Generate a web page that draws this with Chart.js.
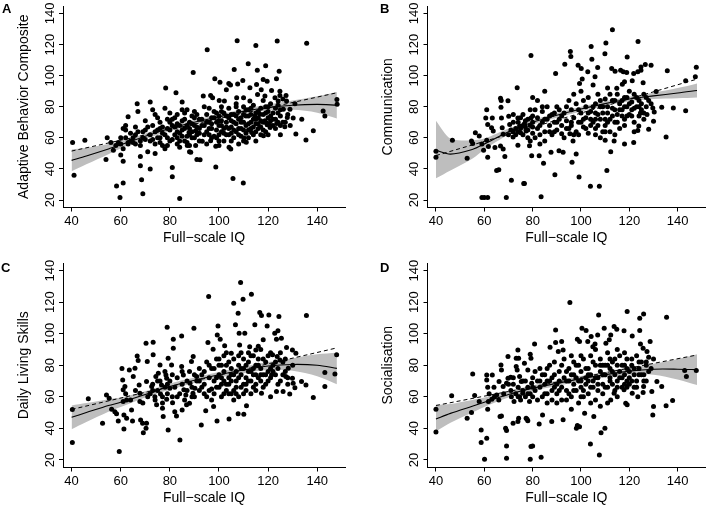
<!DOCTYPE html>
<html>
<head>
<meta charset="utf-8">
<script src="https://cdn.jsdelivr.net/npm/chart.js@4/dist/chart.umd.min.js"></script>
<style>
  body { margin: 0; background: #fff; width: 709px; height: 508px; position: relative; overflow: hidden; font-family: "Liberation Sans", Arial, sans-serif; }
  canvas { position: absolute; }
  .tag { position: absolute; font-weight: bold; font-size: 13px; line-height: 13px; color: #000; }
</style>
</head>
<body>
<canvas id="cA" width="354" height="254" style="left:0;top:0"></canvas>
<canvas id="cB" width="355" height="254" style="left:354px;top:0"></canvas>
<canvas id="cC" width="354" height="254" style="left:0;top:254px"></canvas>
<canvas id="cD" width="355" height="254" style="left:354px;top:254px"></canvas>
<div class="tag" style="left:2px;top:2px">A</div>
<div class="tag" style="left:380px;top:2px">B</div>
<div class="tag" style="left:1px;top:261px">C</div>
<div class="tag" style="left:380px;top:261px">D</div>
<script>
// ticks and axis text
const xTicks = [40, 60, 80, 100, 120, 140];
const yTicks = [20, 40, 60, 80, 100, 120, 140];
const xTitle = 'Full\u2212scale IQ';
const yTitles = ['Adaptive Behavior Composite', 'Communication', 'Daily Living Skills', 'Socialisation'];

// x positions of the smoothed curve and of the straight fit
const fitX = [40, 46, 55, 60, 70, 80, 90, 100, 110, 120, 130, 140, 148];
const linX = [40, 148];

// A: Adaptive Behavior Composite
const pointsA = [[40.4,57],[41,36],[45.4,58.5],[54,46],[54.5,60],[56,57],[58.3,29],[59.7,21.7],[61,31],[61,45],[60,49],[61,53],[60,56],[62,65],[62,68],[61,66],[63,57],[63,73.5],[66,56],[66.7,82],[67,77],[68,55],[68,58],[68,48],[68,42],[68.5,33],[69,24],[69,64],[70,71],[70,59],[71,51],[72,83],[72,40],[72,62],[73,68],[73,78],[74,75],[74,56],[74,50],[75,73],[75,65],[76,60],[76,70],[77,55],[77,63],[78.3,92],[78,79],[78,53],[79,60],[79,66],[79,72],[80,65],[80,70],[80,76],[81,41],[81,35],[81,59],[82.5,89],[82,67],[83,60],[83,75],[84,21],[84,54],[84,63],[85,71],[85,83],[86,58],[86,66],[87,78],[87,61],[88,51],[88,70],[88,55],[89,64],[89,74],[89.5,102],[90,60],[91,46],[91,67],[92,72],
  [57,52],[58,55],[59,57],[60,60],[63,56],[64,58],[65,57],[66,62],[65,60],[67,64],
  [107.4,122.5],[123.7,122.3],[135.7,120.8],[115,119.4],[95.2,116.6],[111.9,107.7],[119,106.4],[106.2,103.9],[115.6,103.4],[124.5,102.8],[98.3,98],[100.4,95.8],[104,95],[104.7,94],[103,91],[107.6,94.7],[109.7,96.9],[118,97.5],[119.6,96.4],[123.4,98],[115.3,94.3],[112.6,92.2],[117.2,91],[121.4,90.5],[124.8,90],[93.6,86.9],[96.6,87.3],[97.4,85.8],[100.1,84],[102.2,83.7],[107.2,85.8],[110,85.8],[112.6,83.7],[115.7,87.9],[118.7,86.9],[122.8,85.8],[124.8,87.3],[127.3,87.3],[124.1,83.7],[127.5,83.7],[130.9,82],[148,84.7],[148.1,81.6],[142.4,77.3],[143.1,74.1],[126.2,78.4],[128.9,78.4],[127.8,73.1],[130.2,72.7],[133.7,72],[126.8,67.1],[131.3,62.5],[135.4,58.6],[138.4,64.6],[87.8,63.5],[90.5,64.6],[87.1,55],[88.5,50.8],[90.5,55],[92.3,45.9],[98.7,41.2],[105.7,33.8],[109.9,31],[93.2,57.8],[96.6,58.2],[98.7,54.6],[104.1,54],[104.8,52.9],[110.2,59.9],[111.1,57.2],[113.3,63.5],[118.1,61.4],[120.8,66.7],[123.5,69.3],[118.7,71],[119.6,68.4],[114.6,74.1],[116.7,75.2],
  [93,72],[94,68],[95,75],[95,64],[96,70],[96,79],[97,66],[97,73],[98,61],[98,77],[99,70],[99,65],[100,74],[100,68],[100,62],[101,80],[101,71],[102,66],[102,76],[103,70],[103,62],[104,73],[104,79],[105,67],[105,71],[106,60],[106,75],[107,69],[107,64],[107,82],[108,72],[108,77],[109,66],[109,61],[110,70],[110,75],[110,80],[111,68],[111,63],[112,74],[112,78],[113,70],[113,66],[114,72],[114,81],[115,69],[115,64],[116,77],[116,73],[117,79],[117,67],[118,75],[118,84],[119,70],[119,80],[120,73],[120,77],[121,82],[121,71],[122,76],[123,79],[123,72],[124,81],[125,74],[126,70],[126,85],[82,62],[83,69],[84,58],[85,65],[86,72],[87,68],[88,62],[89,69],[90,73],[91,62],[92,66],[92,58],
  [94,62],[96,66],[99,76],[101,64],[103,74],[105,63],[106,70],[108,66],[109,73],[111,78],[113,75],[115,72],[117,71],[119,76],[121,74],[122,68],[124,70],[125,78],[101,68],[104,66],[107,74],[110,65],[112,69],[114,67],[116,69],[118,65],[120,69],[95,70],[97,60],[100,58],[102,58],[108,56],[112,60],[115,58],[70,65],[72,58],[75,60],[77,67],[78,62],[81,68],[82,73],[84,68],[85,61],[86,76],[88,66],[90,68],[91,75],[76,57],[80,58],[83,64],
  [62,60],[64,63],[66,67],[69,60],[71,67],[73,59],[74,64],[76,66],[79,55],[81,72],[83,56],[85,78],[87,57],[89,60],[90,77],[92,63],[93,68],[94,80],[96,62],[97,69],[98,73],[99,60],[100,71],[101,77],[102,63],[103,67],[104,62],[105,75],[106,65],[107,80],[108,62],[109,70],[110,58],[111,74],[112,65],[113,79],[114,62],[115,76],[116,66],[117,62],[118,70],[119,64],[120,80],[121,68],[122,72],[123,66],[124,76],[125,68],[127,70],[128,75],[129,68],[105,58],[95,56],[100,55],[120,62],[125,62]];
const fitA = [45.5, 48.3, 52.8, 55.5, 61, 66, 70, 73.5, 77, 79.5, 81, 81.5, 81];
const loA  = [38.5, 43, 49.5, 53.2, 59.2, 64.4, 68.5, 72, 75.4, 77.5, 78, 76.2, 72.5];
const hiA  = [52.5, 53.6, 56.1, 57.8, 62.8, 67.6, 71.5, 75, 78.6, 81.5, 84, 86.8, 89.5];
const linA = [51.5, 89];

// B: Communication
const pointsB = [[40,51.3],[40,47.5],[46.8,58.5],[52.9,46.8],[54.7,58],[55.2,56.4],[56.3,63.3],[57.9,61.2],[59,56],[59.7,52],[61,78],[60.6,72.8],[61.4,68.6],[61,58.5],[61.7,54.5],[61.4,47.5],[59,21.7],[60,21.7],[61.4,21.7],[63,66.5],[63.3,72.8],[63.7,64.4],[64.4,53.8],[65.1,39],[66,39.5],[66.7,85.5],[67,84],[66.9,79.6],[67.1,72.8],[67.4,66.5],[67.8,62.3],[66.7,54.7],[67.8,52.8],[68.5,48],[69.1,21.7],[69.8,83.8],[70.1,73.9],[70.5,68.6],[71.2,32.7],[71.9,60.6],[73.6,92.3],[73.9,72.8],[74.6,67.6],[75,63.3],[73.9,55.3],[76.6,30.6],[76,75],[76.6,69],[77.3,64.4],[79,78],[79.3,72.8],[79.3,113],[78.7,54.9],[79.6,48.5],
  [72,64],[72,70],[73,62],[74,70],[75,66],[75,73],[76,62],[77,71],[78,65],[78,60],[79,68],[80,63],[80,70],
  [113,129.5],[123.6,122],[110.3,121],[104.2,118.7],[95.6,115.6],[95.8,112.4],[119.1,112],[93.3,107.3],[89.5,101.4],[98.8,106.7],[100.1,104.6],[102.8,102.5],[104.5,110.5],[106.9,105.2],[109.9,114.1],[105.8,99.3],[99.4,95],[100.5,97.8],[112.7,104.6],[114.1,102.9],[116.4,103.5],[117.5,102.5],[118.9,102],[121.8,101.4],[123.5,102.5],[124.8,103.5],[124.8,105.6],[126.6,107.1],[129,106.7],[125.7,95.5],[121.2,96.7],[118,96.1],[114.8,91.9],[117.1,94.4],[135.7,103.1],[143.3,96.7],[147.3,99.3],[147.7,105.4],[131.1,89.8],[138.2,79.2],[143.3,77.5],[133.4,79.6],[129.7,79.2],[130.3,76.7],[127.3,75],[130,70.7],[128,65.5],[123.9,67.6],[124.6,76],[135.2,60.6],[121.8,57],[123.5,64.8],[118,56],[113.7,58],[112.3,51.1],[110,58.5],[110.7,39],[107.6,28.9],[103.9,28.9],[99.2,34.8],[96.3,44.3],[98,49.6],[96.7,58],[95.4,62.7],[89.2,36.3],[84.5,43.7],[82.7,48.5],[83.5,22.1],[76.3,30.6],[87.6,50.7],[90.9,51.7],[92.6,50.7],[92,62.7],
  [82,66],[82,73],[83,62],[84,70],[84,77],[85,64],[86,72],[86,80],[87,68],[88,62],[88,75],[89,70],[90,65],[90,80],[91,72],[92,68],[93,76],[93,60],[94,71],[95,84],[95,66],[96,78],[97,73],[97,88],[98,64],[98,82],[99,70],[100,76],[100,90],[101,67],[102,80],[102,73],[103,86],[103,63],[104,77],[105,70],[105,94],[106,82],[106,66],[107,75],[107,88],[108,72],[108,60],[109,80],[110,68],[110,85],[111,76],[111,92],[112,72],[112,64],[113,84],[113,79],[114,70],[115,88],[115,75],[116,82],[116,66],[117,78],[118,86],[118,72],[119,80],[120,75],[120,90],[121,83],[122,70],[122,79],[123,86],[124,74],[125,82],[126,88],[127,80],[128,84],[82,84],[84,80],[85,90],[80,86],
  [81,60],[83,56],[85,58],[87,74],[89,64],[91,78],[94,66],[96,70],[99,62],[101,72],[104,68],[106,76],[108,80],[109,64],[111,70],[114,78],[117,84],[119,74],[121,78],[124,80],[126,76],[73,66],[71,65],[77,67],[79,58],[80,74],[81,78],
  [70,62],[72,75],[74,64],[76,68],[78,72],[80,67],[83,68],[85,72],[87,64],[89,76],[90,70],[92,74],[94,80],[96,68],[97,62],[99,78],[100,70],[101,84],[103,76],[104,72],[105,80],[106,72],[107,68],[108,84],[109,76],[110,72],[111,80],[112,88],[113,74],[114,84],[115,70],[116,78],[117,74],[118,80],[119,86],[120,82],[121,74],[122,88],[123,80],[124,84],[125,78],[126,72],[127,86],[129,82],[102,66],[106,62],[110,64],[114,62],[118,68],[122,64]];
const fitB = [52, 49.5, 52.5, 56, 64, 70, 74.5, 78.5, 82, 85, 87, 88.8, 90.5];
const loB  = [34, 39, 46.5, 52.5, 62, 68.5, 73, 77, 80.5, 83.5, 85, 85.5, 86];
const hiB  = [71, 59.5, 58.5, 59.5, 66, 71.5, 76, 80, 83.5, 86.5, 89, 92, 95];
const linB = [48.6, 97.8];

// C: Daily Living Skills
const pointsC = [[40.3,52],[40.3,31],[46.8,58.7],[52.6,43.2],[54.2,61.2],[55.3,59.1],[56.3,52.1],[57.6,50.6],[58.3,49.2],[59,44.7],[59.4,25.3],[60.5,77.9],[60.8,70.7],[61,64.4],[61,57],[61.3,48.5],[61.3,39.6],[61.7,66.5],[62.4,58],[62.4,46.4],[63.5,77],[64.4,51.7],[64.8,44.7],[65.1,72.8],[65.8,78.1],[66.7,85.9],[67.1,83],[67.5,67.5],[67.8,62.3],[67.8,57],[68.1,45.3],[68.9,43.2],[69.2,37.3],[70.3,93.9],[70.5,43.2],[70.3,40.1],[70.8,82.3],[70.5,69.7],[72.6,66.5],[73.2,94.6],[73.2,86.6],[73.9,60.1],[74.3,72.8],[74.6,54.9],[75.3,74.9],[76,80.2],[76.2,61.8],[76.6,67.5],[77,52.7],[77.3,47.5],[78,76],[78.4,73.9],[78.7,71.8],[78.7,58.5],[78.9,104.1],[79.3,84.4],[79.3,39],[80,65.4],[80.7,80.2],[81.4,96.5],[81.4,90.8],[81.1,56.3],[82,50.6],[82.7,47.9],[84.1,32.7],[84.8,98.6],[84.8,79.2],[85.5,73.9],[85.7,64.4],[86.5,61.2],[86.8,54.9],[88.2,68.6],[88.8,82.3],[89.5,85.5],[89.8,103.5],[90.2,65.4],[90.9,72.8],
  [72,62],[73,68],[74,58],[75,64],[76,70],[77,60],[78,66],[79,62],[80,70],[81,60],[82,66],[83,72],[84,62],[85,68],[86,58],[87,64],[88,76],[89,60],[90,60],
  [108.8,132.4],[113.2,125],[109.8,121.8],[95.8,123.5],[106,119.3],[107.8,113],[116.6,113.4],[117.3,111.5],[120.3,111.9],[124.4,110.9],[135.6,111.5],[114.6,105.6],[119.6,104.9],[106.7,105.6],[99.6,104.9],[99.3,99.2],[122.7,100.3],[124,101.8],[125.4,97.1],[123.4,96.5],[118,96.1],[108.2,100.3],[110.5,100.3],[100.5,96.5],[95.5,94.4],[102.3,92.3],[97.6,90.1],[105,87.6],[108.4,92.9],[112.5,91.8],[115,89.7],[127.5,91.2],[129.9,89.7],[131.3,87.6],[147.9,86.6],[143.1,75.4],[147.2,74.5],[143.1,66.5],[138.4,59.5],[135.4,67.5],[133.6,69.7],[130.9,65.8],[130.2,68.6],[129.9,71.8],[127.2,72.8],[128.2,78.1],[128.8,61.8],[126.1,63.3],[123.4,63.3],[121,60.1],[117.3,62.3],[121.4,73.9],[124.8,83.4],[121.8,86.6],[123.7,85.5],[92.8,42.2],[99.2,44.7],[104.1,45.9],[107.8,49.2],[110.1,48.9],[111.2,54.4],[94.6,51.1],[97.8,53.8],[89.4,62.3],[88,55.9],[85,51.7],
  [91,70],[92,78],[92,64],[93,74],[94,68],[95,60],[95,82],[96,72],[97,65],[97,78],[98,70],[98,62],[99,84],[100,74],[100,66],[101,80],[101,60],[102,70],[102,76],[103,64],[103,88],[104,72],[104,68],[105,78],[105,62],[106,74],[106,84],[107,66],[107,70],[108,80],[108,60],[109,74],[109,88],[110,68],[110,78],[111,72],[111,64],[112,82],[112,76],[113,70],[113,62],[114,86],[114,74],[115,80],[115,68],[116,84],[116,72],[117,78],[117,90],[118,74],[118,66],[119,82],[120,76],[120,70],[121,88],[122,80],[123,74],[124,78],[125,70],[126,82],[127,76],[128,68],
  [93,66],[96,64],[99,72],[101,68],[103,80],[105,70],[107,76],[109,66],[111,80],[113,76],[115,74],[117,70],[119,74],[121,78],[94,76],[98,78],[104,62],[106,64],[110,62],[114,66],[100,84],[102,86],[108,86],[112,88],[116,92],
  [62,62],[64,58],[66,64],[69,56],[71,60],[73,64],[75,70],[77,56],[79,68],[81,74],[83,60],[85,76],[87,70],[89,66],[90,74],[92,70],[94,62],[96,80],[97,58],[99,66],[100,80],[101,72],[103,68],[104,82],[105,74],[107,62],[108,72],[109,78],[110,84],[111,68],[112,70],[113,86],[114,78],[115,64],[116,80],[117,74],[118,84],[119,68],[120,86],[121,72],[122,76],[123,82],[124,68],[125,88],[126,74],[127,84],[128,72],[130,80],[106,58],[102,62]];
const fitC = [47, 50, 54.5, 56.5, 61.5, 66.5, 70.5, 74, 77, 79.5, 80.5, 80, 78];
const loC  = [39.5, 44, 50.5, 53.5, 59.5, 64.5, 68.7, 72.2, 75, 77, 76.5, 73, 68];
const hiC  = [54.5, 56, 58.5, 59.5, 63.5, 68.5, 72.3, 75.8, 79, 82, 84.5, 87, 88];
const linC = [52, 91];

// D: Socialisation
const pointsD = [[40,52.1],[40,37.7],[46.5,60.6],[52.9,46.4],[54.7,50],[55.2,74.5],[56,60.8],[57.9,57],[58.7,39],[58.7,31],[60.1,20.4],[61,73.9],[61,70.7],[61.4,66.1],[61,33.7],[61.4,52.1],[61.7,57],[63.1,58.5],[63.3,73.9],[64.2,60.1],[65.1,61.2],[66.1,69.7],[66.5,47.5],[67.1,47.9],[66.9,80.2],[67.1,77],[67.8,66.5],[69.2,68.6],[69.8,71.8],[70.9,72.4],[68.8,40.1],[69.2,38.6],[69.2,28.9],[69.2,21.1],[69.8,85.5],[71.2,60.1],[71.9,43.2],[72.3,57],[73.2,84.4],[74.2,84.4],[73.9,89.7],[73.2,79.2],[73.6,77],[73.9,44.3],[74.2,46.4],[74.6,72.8],[75.3,69.7],[74.6,60.1],[75.9,62.3],[77.3,46.4],[78,44.9],[76.6,81.3],[78,77],[79,87],[79.3,84.4],[79.3,28.5],[79,20.4],[78.7,57],[79.6,68.6],
  [71,64],[72,68],[73,62],[74,66],[75,58],[76,64],[77,70],[77,60],[78,66],[79,62],[80,66],[80,72],
  [95.4,119.7],[107.3,111.9],[119.1,114],[125.9,112.5],[124.3,109.8],[135.4,110.4],[100.4,103.5],[102.1,102],[89.5,102.4],[109.6,103.5],[113.7,104.5],[114.8,102.8],[117.8,101.8],[124.3,102],[121.2,98.6],[106.9,99.2],[104.2,98.2],[112.3,99.2],[92,95],[98.5,96.5],[99.4,95],[102.8,95],[104.9,91.8],[105.8,93.5],[111.7,96.1],[110.3,93.9],[124.6,93.5],[128.6,95],[125.7,90.8],[127.3,88.7],[87.2,91.4],[89.5,94.4],[80.8,93.5],[90.6,88.7],[92.6,89.7],[142.9,76.6],[143.6,72.8],[147.7,76.6],[131.4,69.7],[133.4,66.5],[129.3,63.3],[125.9,66.5],[125.7,62.7],[130,53.8],[135.2,54.4],[137.9,57.6],[129.7,48.5],[123.5,60.1],[121.2,62.3],[117.8,64.4],[118.5,55.9],[119.1,54.9],[113.7,62.3],[112.3,58],[109.9,40.1],[108.3,37.3],[103.9,30.1],[107.6,23.2],[98.5,41.8],[99.4,41.1],[98.1,40.1],[105.3,47.5],[101.5,49.6],[96,52.1],[92.6,45.4],[87.9,44.3],[82.7,42.8],[84.1,48.5],[77.7,45.8],[80,28.9],[83.5,21.7],
  [81,64],[82,70],[82,58],[83,66],[84,74],[84,60],[85,68],[86,62],[86,78],[87,70],[88,64],[88,58],[89,74],[89,82],[90,68],[90,62],[91,76],[92,66],[92,58],[93,72],[93,84],[94,64],[95,70],[95,78],[96,60],[96,86],[97,68],[97,74],[98,64],[98,80],[99,70],[99,56],[100,76],[100,66],[101,84],[101,60],[102,72],[102,68],[103,78],[103,62],[104,74],[104,86],[105,66],[105,70],[106,80],[106,58],[107,72],[107,64],[108,76],[108,84],[109,68],[109,62],[110,74],[110,80],[111,66],[111,88],[112,72],[112,78],[113,68],[113,82],[114,74],[114,64],[115,80],[115,70],[116,76],[116,86],[117,72],[117,66],[118,80],[118,74],[119,84],[119,70],[120,76],[120,68],[121,80],[122,74],[123,86],[123,70],[124,78],[125,82],[126,74],[127,80],[128,76],[128,85],
  [83,78],[85,74],[87,80],[91,70],[94,76],[97,82],[100,86],[103,70],[106,90],[109,80],[112,84],[115,90],[118,88],[121,70],[124,74],[127,70],[86,56],[90,56],[94,58],[100,60],[104,56],[108,54],[111,56],[115,60],[119,66],[122,66],
  [62,62],[64,66],[66,58],[68,62],[70,68],[72,72],[74,60],[76,70],[78,62],[80,60],[81,76],[83,70],[85,62],[86,70],[88,72],[89,66],[91,64],[92,80],[94,70],[95,62],[96,74],[97,64],[98,72],[99,80],[100,70],[101,64],[102,78],[103,74],[104,66],[105,82],[106,72],[107,68],[108,80],[109,74],[110,66],[111,80],[112,70],[113,76],[114,84],[115,66],[116,72],[117,80],[118,68],[119,78],[120,72],[121,84],[122,78],[123,66],[124,82],[125,74],[126,70],[127,82],[129,78],[130,84]];
const fitD = [46, 49.5, 54, 56.5, 61.5, 65.5, 68.5, 71.5, 74, 76.3, 77.5, 77.5, 77.2];
const loD  = [38, 43.5, 50, 53.5, 59.5, 63.7, 66.8, 69.8, 72.2, 74.1, 74, 71, 67.5];
const hiD  = [55, 55.5, 58, 59.5, 63.5, 67.3, 70.2, 73.2, 75.8, 78.5, 81, 84, 87];
const linD = [54.5, 86.5];

const FONT = '"Liberation Sans", Arial, sans-serif';

// canvas placement and plot area (page pixels)
const panels = [
  { id: 'cA', left: 0,   top: 0,   w: 354, h: 254, area: { l: 63,  r: 345, t: 4,   b: 207.5 }, pts: pointsA, fit: fitA, lo: loA, hi: hiA, lin: linA, title: yTitles[0] },
  { id: 'cB', left: 354, top: 0,   w: 355, h: 254, area: { l: 427.5, r: 709, t: 4,   b: 207.5 }, pts: pointsB, fit: fitB, lo: loB, hi: hiB, lin: linB, title: yTitles[1] },
  { id: 'cC', left: 0,   top: 254, w: 354, h: 254, area: { l: 63,  r: 345, t: 263, b: 467.5 }, pts: pointsC, fit: fitC, lo: loC, hi: hiC, lin: linC, title: yTitles[2] },
  { id: 'cD', left: 354, top: 254, w: 355, h: 254, area: { l: 427.5, r: 709, t: 263, b: 467.5 }, pts: pointsD, fit: fitD, lo: loD, hi: hiD, lin: linD, title: yTitles[3] }
];

const toXY = arr => arr.map(p => ({ x: p[0], y: p[1] }));
const onX = (xs, ys) => xs.map((x, i) => ({ x: x, y: ys[i] }));

panels.forEach(p => {
  const yw = p.area.l - p.left;
  const xh = p.top + p.h - p.area.b;
  const padR = p.left + p.w - p.area.r;
  const padT = p.area.t - p.top;
  const yTitlePad = yw - 39 - 8.4;
  const xTitlePad = xh - 31 - 8.4;

  new Chart(document.getElementById(p.id), {
    type: 'scatter',
    data: {
      datasets: [
        { type: 'line', data: onX(fitX, p.lo), borderWidth: 0, pointRadius: 0, tension: 0.3, fill: false, order: 4 },
        { type: 'line', data: onX(fitX, p.hi), borderWidth: 0, pointRadius: 0, tension: 0.3, fill: '-1', backgroundColor: '#bebebe', order: 3 },
        { type: 'line', data: onX(fitX, p.fit), borderColor: '#000', borderWidth: 1.1, pointRadius: 0, tension: 0.3, fill: false, order: 2 },
        { type: 'line', data: onX(linX, p.lin), borderColor: '#000', borderWidth: 1, borderDash: [4, 3], pointRadius: 0, fill: false, order: 1 },
        { data: toXY(p.pts), backgroundColor: '#000', borderWidth: 0, pointRadius: 2.5, order: 0 }
      ]
    },
    options: {
      responsive: false,
      animation: false,
      events: [],
      layout: { padding: { left: 0, right: padR, top: padT, bottom: 0 } },
      plugins: { legend: { display: false }, tooltip: { enabled: false } },
      scales: {
        x: {
          type: 'linear', min: 36.5, max: 151.3,
          afterBuildTicks: s => { s.ticks = xTicks.map(v => ({ value: v })); },
          afterFit: s => { s.height = xh; },
          grid: { drawOnChartArea: false, drawTicks: true, tickLength: 4, color: '#000', lineWidth: 1 },
          border: { display: true, color: '#000', width: 1 },
          ticks: { color: '#000', font: { size: 13, family: FONT }, padding: 2.5, maxRotation: 0, autoSkip: false },
          title: { display: true, text: xTitle, color: '#000', font: { size: 14, family: FONT }, padding: { top: 0, bottom: xTitlePad } }
        },
        y: {
          type: 'linear', min: 15.2, max: 144.8,
          afterBuildTicks: s => { s.ticks = yTicks.map(v => ({ value: v })); },
          afterFit: s => { s.width = yw; },
          grid: { drawOnChartArea: false, drawTicks: true, tickLength: 4, color: '#000', lineWidth: 1 },
          border: { display: true, color: '#000', width: 1 },
          ticks: { color: '#000', font: { size: 13, family: FONT }, padding: -1.8, minRotation: 90, maxRotation: 90, crossAlign: 'center', autoSkip: false },
          title: { display: true, text: p.title, color: '#000', font: { size: 14, family: FONT }, padding: { top: yTitlePad, bottom: 0 } }
        }
      }
    }
  });
});
</script>
</body>
</html>
